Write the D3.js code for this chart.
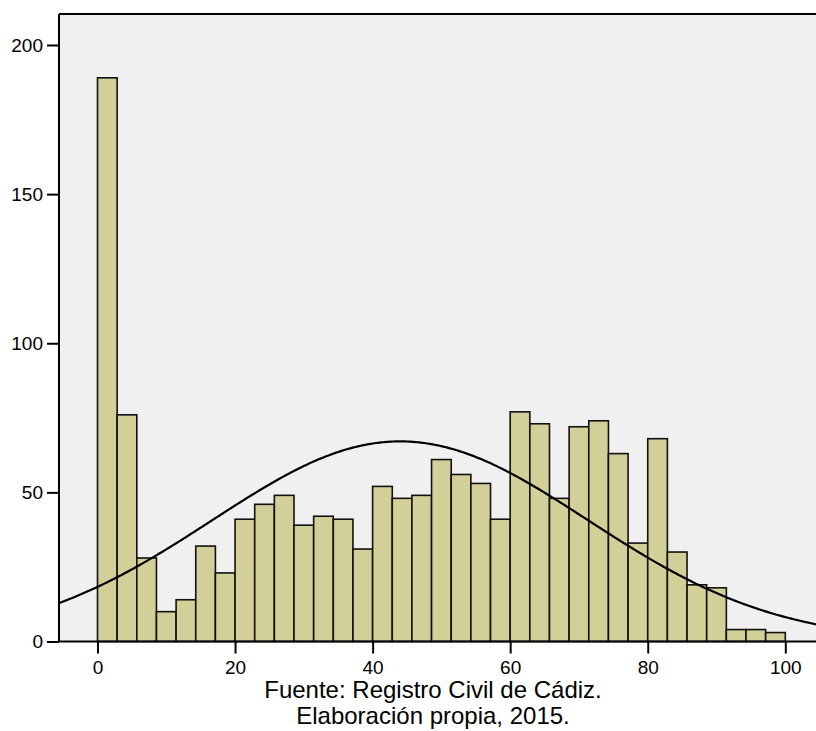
<!DOCTYPE html>
<html>
<head>
<meta charset="utf-8">
<script src="https://cdn.jsdelivr.net/npm/d3@7"></script>
<style>
  html, body { margin: 0; padding: 0; background: #ffffff; }
  svg { display: block; }
  text { font-family: "Liberation Sans", Arial, sans-serif; fill: #000; }
</style>
</head>
<body>
<svg id="chart" width="816" height="731"></svg>
<script>
// ---- data ----
const binStart = 0;
const binWidth = 100 / 35;
const counts = [189, 76, 28, 10, 14, 32, 23, 41, 46, 49, 39, 42, 41, 31, 52, 48, 49, 61, 56, 53,
                41, 77, 73, 48, 72, 74, 63, 33, 68, 30, 19, 18, 4, 4, 3];
const xTicks = [0, 20, 40, 60, 80, 100];
const yTicks = [0, 50, 100, 150, 200];
const normalMean = 44.0;
const normalSd = 27.3;
const sourceLines = ["Fuente: Registro Civil de Cádiz.", "Elaboración propia, 2015."];

// ---- layout ----
const svg = d3.select("#chart");
const plot = { left: 59, top: 14, right: 840, bottom: 641.5 };

const x = d3.scaleLinear().domain([0, 100]).range([97.5, 785.3]);
const y = d3.scaleLinear().domain([0, 200]).range([641.5, 45]);

// background
svg.append("rect")
  .attr("x", plot.left).attr("y", plot.top)
  .attr("width", plot.right - plot.left).attr("height", plot.bottom - plot.top)
  .attr("fill", "#f0f0f0");

// bars
const bins = counts.map((c, i) => ({ x0: binStart + i * binWidth, x1: binStart + (i + 1) * binWidth, n: c }));
svg.append("g").selectAll("rect").data(bins).join("rect")
  .attr("x", d => x(d.x0))
  .attr("y", d => y(d.n))
  .attr("width", d => x(d.x1) - x(d.x0))
  .attr("height", d => y(0) - y(d.n))
  .attr("fill", "#d3cf98")
  .attr("stroke", "#111")
  .attr("stroke-width", 1.6);

// normal curve
const N = d3.sum(counts);
const xs = d3.range(-6, 106.01, 0.25);
const curve = xs.map(v => [v, N * binWidth / (normalSd * Math.sqrt(2 * Math.PI)) * Math.exp(-((v - normalMean) ** 2) / (2 * normalSd * normalSd))]);
svg.append("path")
  .datum(curve.filter(d => x(d[0]) >= plot.left))
  .attr("d", d3.line().x(d => x(d[0])).y(d => y(d[1])))
  .attr("fill", "none")
  .attr("stroke", "#000")
  .attr("stroke-width", 2.2);

// frame lines (left, top, bottom)
svg.append("line").attr("x1", plot.left).attr("x2", plot.left).attr("y1", plot.top).attr("y2", plot.bottom)
  .attr("stroke", "#000").attr("stroke-width", 2);
svg.append("line").attr("x1", plot.left).attr("x2", 816).attr("y1", plot.top).attr("y2", plot.top)
  .attr("stroke", "#000").attr("stroke-width", 2);
svg.append("line").attr("x1", plot.left).attr("x2", 816).attr("y1", plot.bottom).attr("y2", plot.bottom)
  .attr("stroke", "#000").attr("stroke-width", 2);

// y axis
const yAxis = svg.append("g").attr("transform", `translate(${plot.left},0)`)
  .call(d3.axisLeft(y).tickValues(yTicks).tickSize(12).tickPadding(4));
yAxis.select(".domain").remove();
yAxis.selectAll(".tick line").attr("stroke", "#000").attr("stroke-width", 2);
yAxis.selectAll("text").attr("font-size", 19).attr("font-family", "Liberation Sans, Arial, sans-serif");

// x axis
const xAxis = svg.append("g").attr("transform", `translate(0,${plot.bottom})`)
  .call(d3.axisBottom(x).tickValues(xTicks).tickSize(12).tickPadding(7));
xAxis.select(".domain").remove();
xAxis.selectAll(".tick line").attr("stroke", "#000").attr("stroke-width", 2);
xAxis.selectAll("text").attr("font-size", 19).attr("font-family", "Liberation Sans, Arial, sans-serif");

// source text
svg.append("g").selectAll("text").data(sourceLines).join("text")
  .attr("x", 433)
  .attr("y", (d, i) => 698 + i * 26)
  .attr("text-anchor", "middle")
  .attr("font-size", 24)
  .text(d => d);
</script>
</body>
</html>
